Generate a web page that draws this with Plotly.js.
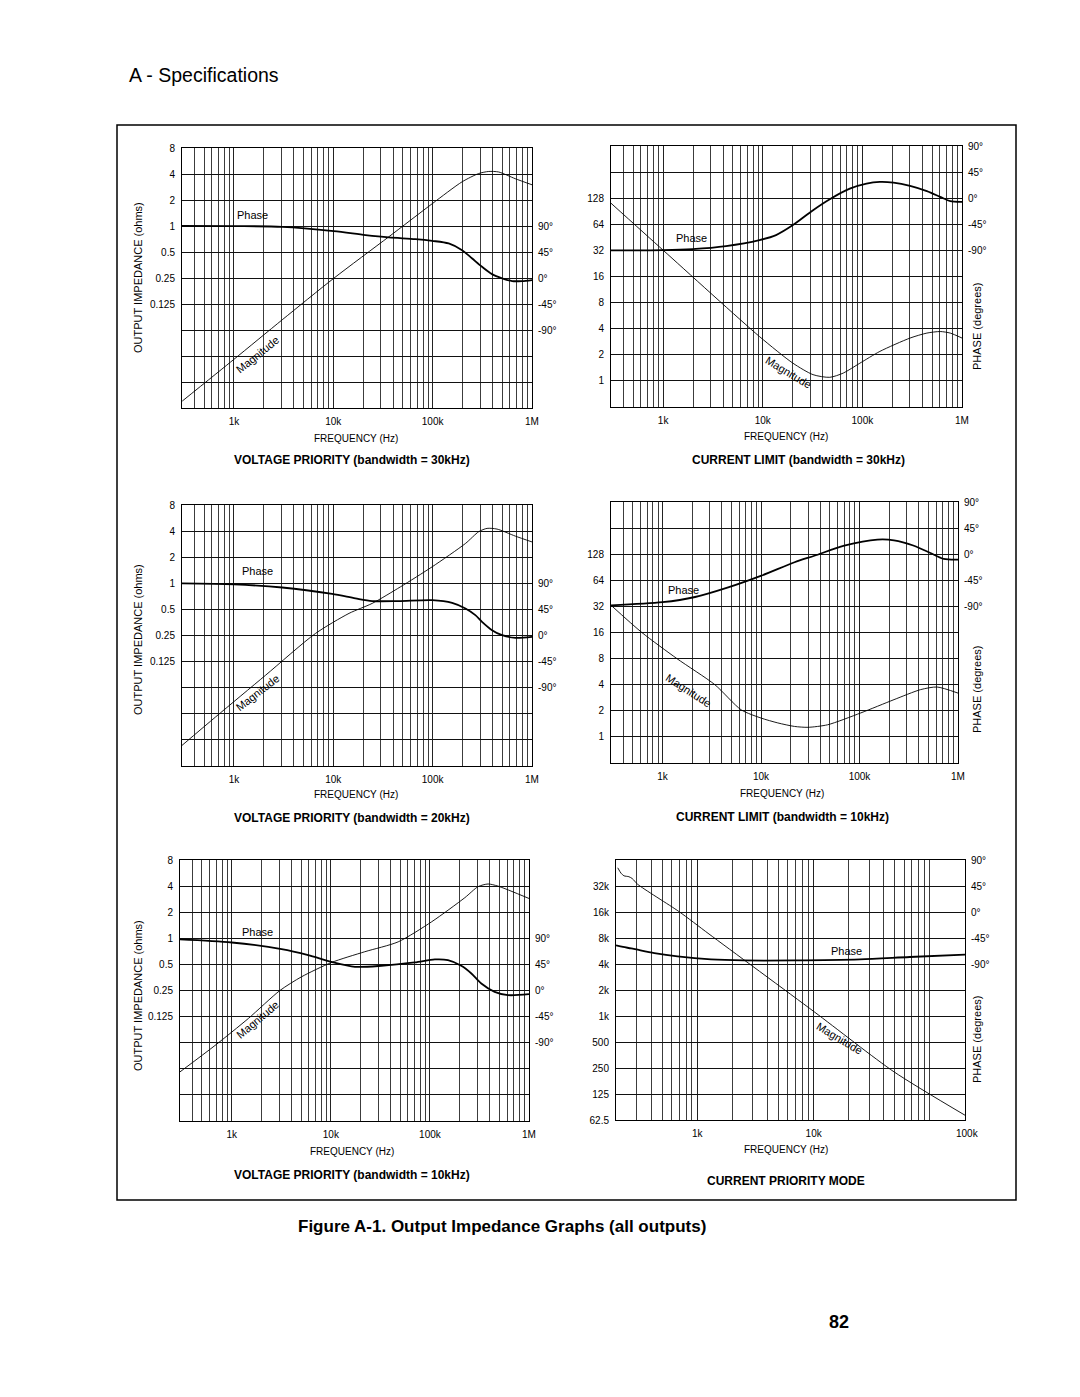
<!DOCTYPE html>
<html><head><meta charset="utf-8">
<script src="https://cdn.plot.ly/plotly-3.0.1.min.js"></script>
<style>html,body{margin:0;padding:0;background:#fff;} #chart{width:1080px;height:1397px;}</style>
</head><body><div id="chart"></div>
<script>
// ---------- DATA ----------
// Panel 1: VOLTAGE PRIORITY (bandwidth = 30kHz)
const vp30MagFreq = [302, 1000, 3060, 10100, 36200, 98900, 198000, 291000, 367000, 462000, 678000, 1000000];
const vp30Mag     = [0.0094, 0.0286, 0.082, 0.248, 0.75, 1.81, 3.25, 4.05, 4.28, 4.22, 3.53, 3.0];
const vp30PhFreq  = [300, 1000, 3060, 10100, 21100, 36200, 67000, 98900, 145000, 198000, 250000, 314000, 396000, 500000, 631000, 794000, 1000000];
const vp30Phase   = [90, 89.8, 88.6, 81.1, 74.2, 70.2, 67.3, 64.3, 59.8, 48.1, 33.7, 19.4, 6.7, -0.5, -5.3, -5.3, -3.5];

// Panel 2: CURRENT LIMIT (bandwidth = 30kHz)
const cl30MagFreq = [300, 1000, 9270, 20100, 32000, 47100, 64200, 94400, 150000, 301000, 444000, 604000, 762000, 1000000];
const cl30Mag     = [112, 32.2, 3.25, 1.60, 1.18, 1.10, 1.23, 1.60, 2.19, 3.12, 3.56, 3.71, 3.56, 3.12];
const cl30PhFreq  = [300, 1000, 1980, 4280, 9270, 13600, 20100, 32000, 47100, 74800, 110000, 150000, 205000, 301000, 444000, 604000, 762000, 1000000];
const cl30Phase   = [-90, -89.5, -87.7, -82.5, -72.2, -63.6, -46.4, -20.6, -1.7, 16.5, 25.2, 28.0, 26.8, 21.2, 12.1, 2.3, -5.1, -6.2];

// Panel 3: VOLTAGE PRIORITY (bandwidth = 20kHz)
const vp20MagFreq = [300, 655, 2080, 6620, 14400, 24600, 47400, 98900, 214000, 291000, 353000, 445000, 680000, 1000000];
const vp20Mag     = [0.0135, 0.0288, 0.087, 0.264, 0.45, 0.586, 0.91, 1.55, 2.88, 3.94, 4.3, 4.22, 3.5, 3.0];
const vp20PhFreq  = [300, 1000, 3060, 9730, 16700, 24600, 45500, 98900, 157000, 214000, 269000, 314000, 396000, 500000, 680000, 1000000];
const vp20Phase   = [89.8, 88.1, 82.8, 71.6, 64, 59.4, 59.4, 61, 56.4, 46.6, 35.1, 23.6, 9.2, 0.5, -4.0, -2.3];

// Panel 4: CURRENT LIMIT (bandwidth = 10kHz)
const cl10MagFreq = [300, 617, 1400, 3400, 6300, 10000, 14800, 21900, 30000, 47500, 103000, 224000, 417000, 613000, 1000000];
const cl10Mag     = [33, 16, 8, 4, 2.05, 1.65, 1.45, 1.32, 1.29, 1.38, 1.89, 2.69, 3.51, 3.76, 3.2];
const cl10PhFreq  = [300, 1000, 2140, 4640, 10100, 21900, 34800, 70000, 152000, 224000, 357000, 525000, 716000, 1000000];
const cl10Phase   = [-88.2, -82.8, -73.8, -57.2, -36.9, -13.9, -2.7, 14.6, 25.2, 24.0, 14.6, 2.1, -8.1, -9.4];

// Panel 5: VOLTAGE PRIORITY (bandwidth = 10kHz)
const vp10MagFreq = [300, 676, 1470, 3060, 5060, 10100, 22000, 47800, 104000, 225000, 306000, 386000, 486000, 1000000];
const vp10Mag     = [0.0288, 0.058, 0.119, 0.25, 0.36, 0.525, 0.70, 0.91, 1.55, 2.94, 3.94, 4.23, 4.0, 2.88];
const vp10PhFreq  = [300, 1000, 3180, 5900, 10100, 17500, 32400, 70300, 112000, 152000, 207000, 262000, 330000, 450000, 613000, 1000000];
const vp10Phase   = [88.1, 82.8, 71.4, 61, 49.5, 40.9, 42.6, 48.4, 53.5, 52.3, 42.6, 29.4, 12.1, -2.3, -8.0, -6.3];

// Panel 6: CURRENT PRIORITY MODE
const cpmMagFreq  = [207, 221, 234, 258, 276, 307, 695, 1260, 10100, 49000, 200000];
const cpmMag      = [52000, 45000, 42000, 41000, 39000, 33500, 16200, 8900, 1120, 226, 71];
const cpmPhFreq   = [200, 230, 270, 307, 427, 676, 1310, 2500, 6800, 25000, 67000, 200000];
const cpmPhase    = [-57.8, -60.5, -63, -65.3, -71, -76.8, -82, -83.8, -83.8, -82, -77.9, -73.9];

// Tick labels
const freqLabelsV  = ['1k', '10k', '100k', '1M'];
const freqValsV    = [1e3, 1e4, 1e5, 1e6];
const freqLabelsC  = ['1k', '10k'];
const freqValsC    = [1e3, 1e4];
const ohmValsV     = [0.125, 0.25, 0.5, 1, 2, 4, 8];
const ohmLabelsV   = ['0.125', '0.25', '0.5', '1', '2', '4', '8'];
const ohmValsC     = [1, 2, 4, 8, 16, 32, 64, 128];
const ohmLabelsC   = ['1', '2', '4', '8', '16', '32', '64', '128'];
const ohmValsP     = [62.5, 125, 250, 500, 1000, 2000, 4000, 8000, 16000, 32000];
const ohmLabelsP   = ['62.5', '125', '250', '500', '1k', '2k', '4k', '8k', '16k', '32k'];
const phaseVals    = [-90, -45, 0, 45, 90];
const phaseLabels  = ['-90°', '-45°', '0°', '45°', '90°'];
const captions = ['VOLTAGE PRIORITY (bandwidth = 30kHz)', 'CURRENT LIMIT (bandwidth = 30kHz)',
                  'VOLTAGE PRIORITY (bandwidth = 20kHz)', 'CURRENT LIMIT (bandwidth = 10kHz)',
                  'VOLTAGE PRIORITY (bandwidth = 10kHz)', 'CURRENT PRIORITY MODE'];

// ---------- LAYOUT ----------
const W = 1080, H = 1397;
const FONT = '"Liberation Sans", Arial, Helvetica, sans-serif';
const PX = v => v / W, PY = v => 1 - v / H;

function minorsBetween(lo, hi) {
  const out = [];
  for (let d = 1; d <= 1e6; d *= 10) for (let k = 2; k <= 9; k++) {
    const v = k * d; if (v >= lo * 0.999 && v <= hi * 1.001) out.push(v);
  }
  return out;
}
// octave lines of the impedance axis, spanning [lo, hi]
function octaves(lo, hi) {
  const out = [];
  for (let v = lo; v <= hi * 1.001; v *= 2) out.push(v);
  return out;
}

const panels = [
  {mf: vp30MagFreq, m: vp30Mag, pf: vp30PhFreq, p: vp30Phase, kind: 'V', bx: [182, 532], by: [148, 408], xr: [300, 1e6],
   ann: {ytitle: [138, 278], freq: [356, 438], cap: [352, 460], phase: [252, 215], mag: [257, 355, -39]}},
  {mf: cl30MagFreq, m: cl30Mag, pf: cl30PhFreq, p: cl30Phase, kind: 'C', bx: [611, 962], by: [146, 407], xr: [300, 1e6],
   ann: {ptitle: [977, 327], freq: [786, 436], cap: [798, 460], phase: [691, 238], mag: [788, 372, 31]}},
  {mf: vp20MagFreq, m: vp20Mag, pf: vp20PhFreq, p: vp20Phase, kind: 'V', bx: [182, 532], by: [505, 766], xr: [300, 1e6],
   ann: {ytitle: [138, 640], freq: [356, 794], cap: [352, 818], phase: [257, 571], mag: [257, 693, -38]}},
  {mf: cl10MagFreq, m: cl10Mag, pf: cl10PhFreq, p: cl10Phase, kind: 'C', bx: [611, 958], by: [502, 763], xr: [300, 1e6],
   ann: {ptitle: [977, 690], freq: [782, 793], cap: [782, 817], phase: [683, 590], mag: [688, 690, 33]}},
  {mf: vp10MagFreq, m: vp10Mag, pf: vp10PhFreq, p: vp10Phase, kind: 'V', bx: [180, 529], by: [860, 1121], xr: [300, 1e6],
   ann: {ytitle: [138, 996], freq: [352, 1151], cap: [352, 1175], phase: [257, 932], mag: [257, 1020, -40]}},
  {mf: cpmMagFreq, m: cpmMag, pf: cpmPhFreq, p: cpmPhase, kind: 'P', bx: [616, 965], by: [860, 1120], xr: [200, 2e5],
   ann: {ptitle: [977, 1040], freq: [786, 1149], cap: [786, 1181], phase: [846, 951], mag: [839, 1038, 31], edge: [967, 1133]}}
];

const tickFont = {family: FONT, size: 10, color: '#000'};
const layout = {
  width: W, height: H, margin: {l: 0, r: 0, t: 0, b: 0},
  paper_bgcolor: '#fff', plot_bgcolor: '#fff', showlegend: false, hovermode: false,
  font: {family: FONT, color: '#000', size: 10},
  annotations: [], shapes: []
};
const traces = [];

function addText(text, x, y, size, opts) {
  layout.annotations.push(Object.assign({
    text: text, x: PX(x), y: PY(y), xref: 'paper', yref: 'paper', showarrow: false,
    xanchor: 'center', yanchor: 'middle', font: {family: FONT, size: size, color: '#000'}
  }, opts || {}));
}

panels.forEach((pn, i) => {
  const n = i + 1;
  const xid = n === 1 ? 'x' : 'x' + n, yid = n === 1 ? 'y' : 'y' + n, pid = 'y' + (n + 6);
  const xk = n === 1 ? 'xaxis' : 'xaxis' + n, yk = n === 1 ? 'yaxis' : 'yaxis' + n, pk = 'yaxis' + (n + 6);
  let yv, yt, pr, yr;
  if (pn.kind === 'V') { yv = ohmValsV; yt = ohmLabelsV; pr = [-225, 225]; yr = [1 / 128, 8]; }
  else if (pn.kind === 'C') { yv = ohmValsC; yt = ohmLabelsC; pr = [-360, 90]; yr = [0.5, 512]; }
  else { yv = ohmValsP; yt = ohmLabelsP; pr = [-360, 90]; yr = [62.5, 64000]; }
  const fv = pn.kind === 'P' ? freqValsC : freqValsV;
  const ft = pn.kind === 'P' ? freqLabelsC : freqLabelsV;
  const xMinor = minorsBetween(pn.xr[0], pn.xr[1]);
  if (pn.kind === 'P') xMinor.push(1e5);
  const yMinor = octaves(yr[0], yr[1]).filter(v => !yv.some(t => Math.abs(t / v - 1) < 1e-6));

  layout[xk] = {
    type: 'log', domain: [PX(pn.bx[0]), PX(pn.bx[1])], anchor: yid,
    range: [Math.log10(pn.xr[0]), Math.log10(pn.xr[1])],
    tickmode: 'array', tickvals: fv, ticktext: ft, ticks: '', ticklabelstandoff: 4, tickfont: tickFont,
    showgrid: true, gridcolor: '#222', gridwidth: 1,
    minor: {tickmode: 'array', tickvals: xMinor, showgrid: true, gridcolor: '#3c3c3c', gridwidth: 1, ticks: ''},
    showline: true, mirror: true, linecolor: '#000', linewidth: 1, zeroline: false, fixedrange: true
  };
  layout[yk] = {
    type: 'log', domain: [PY(pn.by[1]), PY(pn.by[0])], anchor: xid,
    range: [Math.log10(yr[0]), Math.log10(yr[1])],
    tickmode: 'array', tickvals: yv, ticktext: yt, ticks: '', ticklabelstandoff: 4, tickfont: tickFont,
    showgrid: true, gridcolor: '#111', gridwidth: 1,
    minor: {tickmode: 'array', tickvals: yMinor, showgrid: true, gridcolor: '#111', gridwidth: 1, ticks: ''},
    showline: true, mirror: true, linecolor: '#000', linewidth: 1, zeroline: false, fixedrange: true
  };
  layout[pk] = {
    overlaying: yid, anchor: xid, side: 'right', range: pr,
    tickmode: 'array', tickvals: phaseVals, ticktext: phaseLabels, ticks: '', ticklabelstandoff: 5, tickfont: tickFont,
    showgrid: false, zeroline: false, showline: false, fixedrange: true
  };

  traces.push({x: pn.mf, y: pn.m, xaxis: xid, yaxis: yid, mode: 'lines', hoverinfo: 'skip',
    line: {color: '#000', width: 0.9, shape: 'spline', smoothing: 0.7}});
  traces.push({x: pn.pf, y: pn.p, xaxis: xid, yaxis: pid, mode: 'lines', hoverinfo: 'skip',
    line: {color: '#000', width: 1.8, shape: 'spline', smoothing: 0.8}});

  const a = pn.ann;
  if (a.ytitle) addText('OUTPUT IMPEDANCE (ohms)', a.ytitle[0], a.ytitle[1], 11, {textangle: -90});
  if (a.ptitle) addText('PHASE (degrees)', a.ptitle[0], a.ptitle[1], 11, {textangle: -90});
  addText('FREQUENCY (Hz)', a.freq[0], a.freq[1], 10);
  addText('<b>' + captions[i] + '</b>', a.cap[0], a.cap[1], 12);
  addText('Phase', a.phase[0], a.phase[1], 11);
  addText('Magnitude', a.mag[0], a.mag[1], 11, {textangle: a.mag[2]});
  if (a.edge) addText('100k', a.edge[0], a.edge[1], 10);
});

// page texts and frame
addText('A - Specifications', 127, 75, 19.5, {xanchor: 'left'});
addText('<b>Figure A-1. Output Impedance Graphs (all outputs)</b>', 502, 1226, 17);
addText('<b>82</b>', 839, 1322, 18);
layout.shapes.push({type: 'rect', xref: 'paper', yref: 'paper', x0: PX(117), x1: PX(1016), y0: PY(1200), y1: PY(125),
  line: {color: '#000', width: 1.5}, fillcolor: 'rgba(0,0,0,0)'});

Plotly.newPlot('chart', traces, layout, {staticPlot: true, displayModeBar: false});
</script></body></html>
